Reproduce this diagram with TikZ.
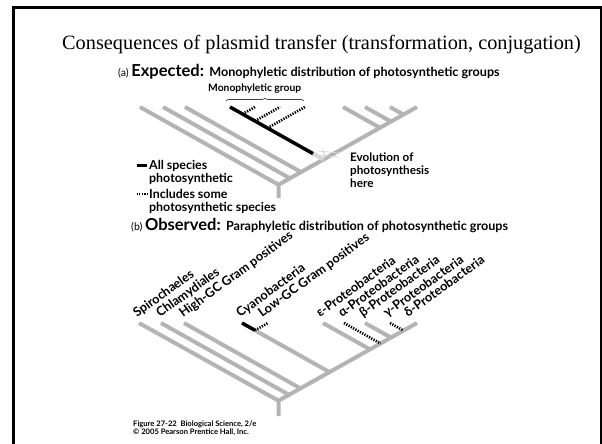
\documentclass[tikz,border=0pt]{standalone}
\usepackage{fontspec}
\setmainfont{Liberation Serif}
\newfontfamily\sansf{Lato}
\usetikzlibrary{decorations.pathreplacing}
\definecolor{treegray}{RGB}{180,180,180}
\definecolor{palegray}{RGB}{215,215,215}
\begin{document}
\begin{tikzpicture}[x=1pt,y=-1pt,
  br/.style={line width=4pt, color=treegray},
  bk/.style={line width=3.5pt, black},
  dt/.style={line width=2.6pt, black, dash pattern=on 1.3pt off 1.3pt},
  lab/.style={font=\sansf\bfseries\fontsize{12.7}{13}\selectfont, anchor=base west, rotate=36, inner sep=0pt},
  txt/.style={font=\sansf\bfseries\fontsize{12.4}{13}\selectfont, anchor=base west, inner sep=0pt},
  evt/.style={font=\sansf\bfseries\fontsize{11.7}{12}\selectfont, anchor=base west, inner sep=0pt},
  foot/.style={font=\sansf\bfseries\fontsize{7.6}{8}\selectfont, anchor=base west, inner sep=0pt}]
\useasboundingbox (0,0) rectangle (602,444);
% frame
\draw[line width=2.7pt] (13.3,444) -- (13.3,7.5) -- (601,7.5) -- (601,444);
% title
\node[anchor=base west, inner sep=0pt, font=\fontsize{20.3}{22}\selectfont] (title) at (62,50) {Consequences of plasmid transfer (transformation, conjugation)};
% (a) heading
\node[anchor=base west, inner sep=0pt] (ha) at (118,76) {\sansf{\fontsize{10.5}{10}\selectfont (a) }{\bfseries\fontsize{16.5}{14}\selectfont Expected: }{\bfseries\fontsize{12.6}{12}\selectfont Monophyletic distribution of photosynthetic groups}};
\node[anchor=base west, inner sep=0pt, font=\sansf\bfseries\fontsize{10.3}{12}\selectfont] (mg) at (208,92) {Monophyletic group};
\draw[decorate, decoration={brace, amplitude=3pt}, line width=0.7pt, black!75] (226,101) coordinate (bl) -- (304,101) coordinate (brr);
% tree (a)
\coordinate (aroot) at (278.5,184.7);
\coordinate (abase) at (278.5,198);
\coordinate (atop) at (417,107);
\coordinate (aL1) at (140,107);
\coordinate (aL2) at (163,107);  \coordinate (aJ2) at (290,178.3);
\coordinate (aL3) at (185,107);  \coordinate (aJ3) at (301,172.1);
\coordinate (aB) at (230,107);   \coordinate (aJB) at (323.5,159.5);
\coordinate (aBe) at (313,153.6);
\coordinate (aR1) at (343,107);  \coordinate (aK1) at (380,127.8);
\coordinate (aR2) at (365,107);  \coordinate (aK2) at (391,121.6);
\coordinate (aR3) at (390,107);  \coordinate (aK3) at (403.5,114.6);
\coordinate (aD1) at (255,107);  \coordinate (aE1) at (242.5,114);
\coordinate (aD2) at (280,107);  \coordinate (aE2) at (255,121);
\coordinate (aD3) at (305,107);  \coordinate (aE3) at (267.5,128);
\draw[br] (abase) -- (aroot) -- (atop);
\draw[br] (aL1) -- (aroot);
\draw[br] (aL2) -- (aJ2);
\draw[br] (aL3) -- (aJ3);
\draw[br] (aR1) -- (aK1);
\draw[br] (aR2) -- (aK2);
\draw[br] (aR3) -- (aK3);
\draw[line width=4pt, palegray] (aBe) -- (aJB);
\draw[bk] (aB) -- (aBe);
\draw[dt] (aE1) -- (aD1);
\draw[dt] (aE2) -- (aD2);
\draw[dt] (aE3) -- (aD3);
% pale hand icon
\draw[palegray, line width=0.8pt] (318,151) -- (340,153) (320,155) -- (338,157) (322,149) -- (326,158);
\node[evt] (evo) at (350,161) {Evolution of};
\node[evt] (evo2) at (350,174) {photosynthesis};
\node[evt] (evo3) at (350,187) {here};
% legend
\coordinate (lg1a) at (136.5,165); \coordinate (lg1b) at (147,165);
\coordinate (lg2a) at (136.5,194); \coordinate (lg2b) at (147,194);
\draw[line width=3pt] (lg1a) -- (lg1b);
\draw[dt] (lg2a) -- (lg2b);
\node[txt] (l1) at (149,169) {All species};
\node[txt] (l2) at (149,182) {photosynthetic};
\node[txt] (l3) at (149,198) {Includes some};
\node[txt] (l4) at (149,211) {photosynthetic species};
% (b) heading
\node[anchor=base west, inner sep=0pt] (hb) at (131,230) {\sansf{\fontsize{10.5}{10}\selectfont (b) }{\bfseries\fontsize{16.5}{14}\selectfont Observed: }{\bfseries\fontsize{12.6}{12}\selectfont Paraphyletic distribution of photosynthetic groups}};
% tree (b)
\coordinate (broot) at (278.5,400.7);
\coordinate (bbase) at (278.5,416);
\coordinate (btop) at (417,323);
\coordinate (bL1) at (139,323);
\coordinate (bL2) at (161,323);  \coordinate (bJ2) at (289,394.8);
\coordinate (bL3) at (184,323);  \coordinate (bJ3) at (300.5,388.4);
\coordinate (bC) at (242,323);   \coordinate (bJC) at (329.5,372.1);
\coordinate (bCe) at (255,330.3);
\coordinate (bLG) at (268,323);
\coordinate (bP1) at (323,323);  \coordinate (bQ1) at (370,349.4);
\coordinate (bP2) at (344,323);  \coordinate (bQ2) at (380.5,343.5);
\coordinate (bP3) at (365,323);  \coordinate (bQ3) at (391,337.6);
\coordinate (bP4) at (390,323);  \coordinate (bQ4) at (403.5,330.6);
\draw[br] (bbase) -- (broot) -- (btop);
\draw[br] (bL1) -- (broot);
\draw[br] (bL2) -- (bJ2);
\draw[br] (bL3) -- (bJ3);
\draw[br] (bCe) -- (bJC);
\draw[bk] (bC) -- (bCe);
\draw[dt] (bCe) -- (bLG);
\draw[br] (bP1) -- (bQ1);
\draw[dt] (bP2) -- (bQ2);
\draw[br] (bP3) -- (bQ3);
\draw[dt] (bP4) -- (bQ4);
% labels
\node[lab] (n1) at (137,318) {Spirochaeles};
\node[lab] (n2) at (160,318) {Chlamydiales};
\node[lab] (n3) at (183,318) {High-GC Gram positives};
\node[lab] (n4) at (240,318) {Cyanobacteria};
\node[lab] (n5) at (262,318) {Low-GC Gram positives};
\node[lab] (n6) at (320,318) {ε-Proteobacteria};
\node[lab] (n7) at (342,318) {α-Proteobacteria};
\node[lab] (n8) at (363,318) {β-Proteobacteria};
\node[lab] (n9) at (387,318) {γ-Proteobacteria};
\node[lab] (n10) at (408,318) {δ-Proteobacteria};
% footer
\node[foot] (f1) at (133,426) {Figure 27-22\enspace Biological Science, 2/e};
\node[foot] (f2) at (133,434) {© 2005 Pearson Prentice Hall, Inc.};
\end{tikzpicture}
\end{document}
